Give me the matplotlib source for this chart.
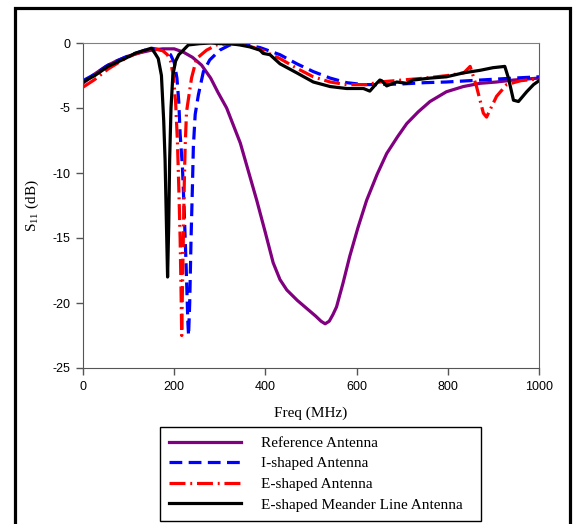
#S11 of the four antennas (reference / I-shaped / E-shaped / E-shaped meander line)

import matplotlib
matplotlib.use("Agg")
import matplotlib.pyplot as plt
from matplotlib.patches import Rectangle

plt.rcParams['font.family'] = 'Liberation Serif'
plt.rcParams['mathtext.fontset'] = 'custom'
plt.rcParams['mathtext.rm'] = 'Liberation Serif'
plt.rcParams['axes.unicode_minus'] = False

#data (MHz, dB)
ref_f = [0, 25, 50, 75, 100, 125, 150, 175, 200, 220, 240, 260, 280, 296, 315, 345,
         381, 400, 417, 432, 447, 470, 490, 510, 522, 531, 540, 548, 556, 570, 585,
         603, 622, 645, 666, 690, 710, 735, 761, 797, 834, 871, 907, 944, 1000]
ref_db = [-3.1, -2.4, -1.8, -1.35, -1.0, -0.75, -0.55, -0.45, -0.45, -0.7, -1.1, -1.7,
          -2.7, -3.8, -5.0, -7.7, -12.1, -14.6, -16.9, -18.2, -19.0, -19.8, -20.4, -21.0,
          -21.4, -21.6, -21.4, -20.9, -20.3, -18.5, -16.4, -14.2, -12.1, -10.1, -8.5,
          -7.2, -6.2, -5.3, -4.5, -3.75, -3.35, -3.1, -3.0, -2.85, -2.7]

i_f = [0, 26, 55, 92, 114, 136, 150, 165, 180, 192, 200, 206, 210, 213, 218, 222, 226,
       230, 231.5, 234, 237, 240, 242, 246, 253, 264, 278, 300, 322, 340, 359, 388, 432,
       469, 505, 542, 578, 615, 644, 700, 750, 797, 871, 944, 1000]
i_db = [-2.9, -2.4, -1.7, -1.1, -0.8, -0.55, -0.4, -0.5, -0.6, -0.9, -1.5, -2.7, -4.5,
        -7.0, -9.5, -13.0, -17.0, -21.5, -22.5, -20.0, -15.0, -11.0, -8.0, -5.5, -4.0,
        -2.2, -1.3, -0.55, -0.15, -0.1, -0.15, -0.35, -0.9, -1.6, -2.2, -2.7, -3.05,
        -3.2, -3.2, -3.15, -3.05, -3.0, -2.85, -2.7, -2.6]

e_f = [0, 26, 55, 92, 114, 136, 150, 165, 175, 185, 192, 198, 203, 207, 210, 213, 215,
       216.5, 218, 220, 222, 224, 227, 238, 249, 271, 293, 320, 345, 366, 395, 432, 469,
       505, 542, 578, 622, 651, 700, 750, 800, 835, 849, 863, 878, 885, 907, 929, 960,
       1000]
e_db = [-3.4, -2.8, -2.0, -1.2, -0.85, -0.6, -0.45, -0.5, -0.6, -0.9, -1.4, -2.5, -4.5,
        -7.5, -11.0, -15.0, -19.0, -22.5, -19.0, -15.0, -11.0, -8.0, -5.3, -2.7, -1.2,
        -0.55, -0.15, -0.05, -0.1, -0.25, -0.6, -1.2, -1.95, -2.6, -3.0, -3.2, -3.2,
        -3.0, -2.85, -2.7, -2.5, -2.3, -1.8, -3.35, -5.4, -5.7, -4.1, -3.2, -2.9, -2.75]

m_f = [0, 26, 55, 92, 114, 136, 150, 158, 165, 172, 177, 180, 183, 185.5, 188, 190, 193,
       197, 203, 210, 220, 231, 256, 280, 300, 322, 344, 366, 388, 395, 410, 432, 469,
       505, 542, 578, 615, 629, 644, 651, 655, 666, 688, 710, 724, 761, 797, 834, 871,
       899, 925, 933, 944, 955, 973, 988, 1000]
m_db = [-3.0, -2.5, -1.8, -1.2, -0.8, -0.55, -0.4, -0.8, -1.2, -2.5, -6.0, -9.0, -14.0,
        -18.0, -14.0, -9.0, -5.0, -2.5, -1.4, -0.9, -0.55, -0.15, -0.05, 0.0, -0.05,
        -0.05, -0.15, -0.3, -0.55, -0.8, -0.9, -1.6, -2.3, -3.0, -3.35, -3.5, -3.5,
        -3.7, -3.1, -2.85, -2.9, -3.3, -3.0, -3.1, -2.85, -2.7, -2.6, -2.3, -2.1, -1.9,
        -1.8, -2.7, -4.4, -4.5, -3.75, -3.2, -2.9]

labels = ['Reference Antenna', 'I-shaped Antenna', 'E-shaped Antenna',
          'E-shaped Meander Line Antenna']

fig = plt.figure(figsize=(5.73, 5.24), dpi=100)
ax = fig.add_axes([83/573, 1-368/524, 456/573, 325/524])

lw = 2.3
ax.plot(ref_f, ref_db, color='#800080', lw=lw, label=labels[0])
ax.plot(i_f, i_db, color='#0000ff', lw=lw, dashes=(4, 2), label=labels[1])
ax.plot(e_f, e_db, color='#ff0000', lw=lw, dashes=(5, 1.5, 0.6, 1.5), label=labels[2])
ax.plot(m_f, m_db, color='black', lw=lw, label=labels[3])

ax.set_xlim(0, 1000)
ax.set_ylim(-25, 0)
ax.set_xticks(range(0, 1001, 200))
ax.set_yticks(range(-25, 1, 5))
for lab in ax.get_xticklabels() + ax.get_yticklabels():
    lab.set_fontfamily('Liberation Sans')
    lab.set_fontsize(9)
ax.tick_params(direction='out', length=5, width=1, color='#555555', pad=4)
ax.spines['left'].set_color('#555555')
ax.spines['bottom'].set_color('#555555')
ax.spines['top'].set_color('#808080')
ax.spines['right'].set_color('#606060')

ax.set_xlabel('Freq (MHz)', fontsize=11, labelpad=10)
ax.set_ylabel(r'S$_{11}$ (dB)', fontsize=11, labelpad=8)

leg = fig.legend(loc='upper left', bbox_to_anchor=(160/573, 1-427/524, 321/573, 0),
                 mode='expand', fontsize=11,
                 frameon=True, fancybox=False, edgecolor='black', framealpha=1,
                 handlelength=4.7, handletextpad=1.3, labelspacing=0.45,
                 borderpad=0.6, borderaxespad=0)
leg.get_frame().set_linewidth(1.0)

#thick black border around the whole picture (bottom edge is cut off)
fig.patches.append(Rectangle((14.5/573, -0.05), (569.5-14.5)/573, 0.05+1-7.5/524,
                             transform=fig.transFigure, fill=False, edgecolor='black',
                             lw=2.3, clip_on=False))

fig.savefig('out.png', dpi=100)
